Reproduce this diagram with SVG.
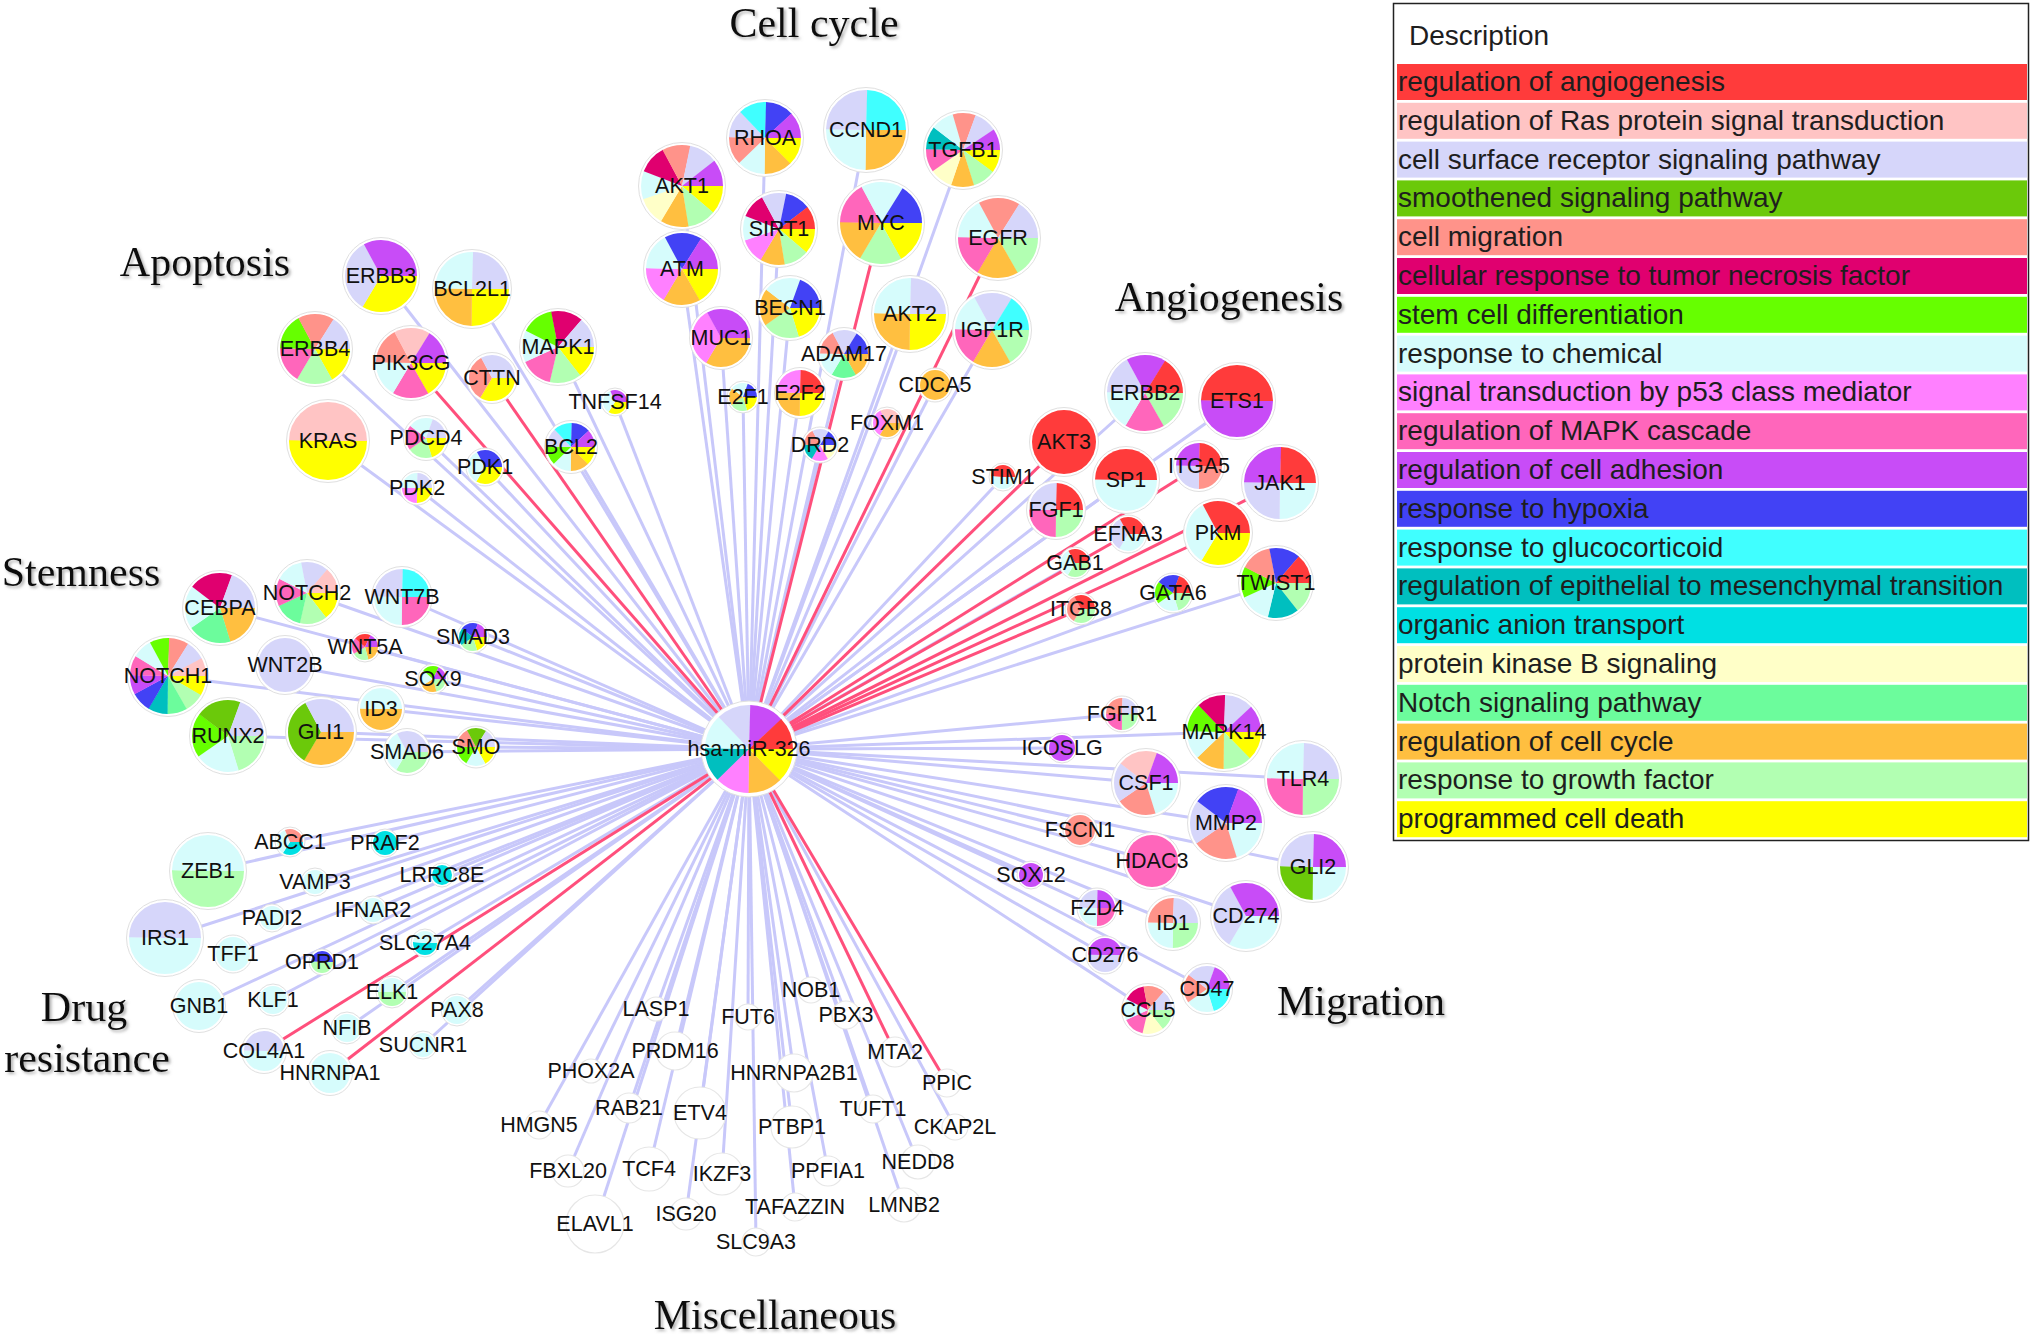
<svg xmlns="http://www.w3.org/2000/svg" width="2032" height="1337" viewBox="0 0 2032 1337">
<defs>
<style>
text{font-family:"Liberation Sans",Arial,sans-serif}
.n text{font-size:21.5px;text-anchor:middle;dominant-baseline:central;fill:#111}
.o{fill:#fff;stroke:#e0e0e0;stroke-width:1}
.w{fill:#fff;stroke:#e6e6e6;stroke-width:1.2}
.p2{stroke-dasharray:180.6 999}.p3{stroke-dasharray:120.6 999}.p4{stroke-dasharray:90.6 999}.p5{stroke-dasharray:72.6 999}.p6{stroke-dasharray:60.6 999}.p7{stroke-dasharray:52 999}.p8{stroke-dasharray:45.6 999}.p9{stroke-dasharray:40.6 999}.p10{stroke-dasharray:36.6 999}.p12{stroke-dasharray:30.6 999}
.A{stroke:#ff3b3b}.B{stroke:#ffc4c4}.C{stroke:#d6d6fa}.D{stroke:#6bc90a}.E{stroke:#ff938a}.F{stroke:#e0006f}.G{stroke:#66ff00}.H{stroke:#d6fcfc}.I{stroke:#ff80ff}.J{stroke:#ff66bb}.K{stroke:#c84cf7}.L{stroke:#4242f5}.M{stroke:#40ffff}.N{stroke:#00bfbf}.O{stroke:#00e0e3}.P{stroke:#ffffc8}.Q{stroke:#6cfc9c}.R{stroke:#ffbf40}.S{stroke:#b2ffb2}.T{stroke:#ffff00}
.fA{fill:#ff3b3b}.fC{fill:#d6d6fa}.fE{fill:#ff938a}.fH{fill:#d6fcfc}.fJ{fill:#ff66bb}.fK{fill:#c84cf7}.fO{fill:#00e0e3}.fR{fill:#ffbf40}
.el line{stroke:#c8c8fa}.er line{stroke:#ff4f7c}
.cat{font-family:"Liberation Serif","Times New Roman",serif;font-size:42px;text-anchor:middle;fill:#111;filter:url(#sh)}
.lg{font-size:28px;fill:#1e1e1e}
</style>
<circle id="s" r="57.2958" fill="none" stroke-width="114.5916"/>
<filter id="sh" x="-10%" y="-30%" width="130%" height="170%"><feDropShadow dx="2" dy="2" stdDeviation="1.5" flood-color="#777" flood-opacity=".6"/></filter>
</defs>
<rect width="2032" height="1337" fill="#fff"/>

<g id="edges" fill="none" stroke-width="3">
<g class="el">
<line x1="749" y1="749" x2="765" y2="138"/>
<line x1="749" y1="749" x2="866" y2="130"/>
<line x1="749" y1="749" x2="963" y2="150"/>
<line x1="749" y1="749" x2="682" y2="186"/>
<line x1="749" y1="749" x2="779" y2="229"/>
<line x1="749" y1="749" x2="682" y2="269"/>
<line x1="749" y1="749" x2="790" y2="308"/>
<line x1="749" y1="749" x2="910" y2="314"/>
<line x1="749" y1="749" x2="992" y2="330"/>
<line x1="749" y1="749" x2="721" y2="338"/>
<line x1="749" y1="749" x2="844" y2="354"/>
<line x1="749" y1="749" x2="743" y2="397"/>
<line x1="749" y1="749" x2="800" y2="393"/>
<line x1="749" y1="749" x2="935" y2="385"/>
<line x1="749" y1="749" x2="887" y2="423"/>
<line x1="749" y1="749" x2="820" y2="445"/>
<line x1="749" y1="749" x2="381" y2="276"/>
<line x1="749" y1="749" x2="472" y2="289"/>
<line x1="749" y1="749" x2="315" y2="349"/>
<line x1="749" y1="749" x2="558" y2="347"/>
<line x1="749" y1="749" x2="615" y2="402"/>
<line x1="749" y1="749" x2="328" y2="441"/>
<line x1="749" y1="749" x2="426" y2="438"/>
<line x1="749" y1="749" x2="485" y2="467"/>
<line x1="749" y1="749" x2="417" y2="488"/>
<line x1="749" y1="749" x2="571" y2="447"/>
<line x1="749" y1="749" x2="1145" y2="393"/>
<line x1="749" y1="749" x2="1237" y2="401"/>
<line x1="749" y1="749" x2="1003" y2="477"/>
<line x1="749" y1="749" x2="1126" y2="480"/>
<line x1="749" y1="749" x2="1056" y2="510"/>
<line x1="749" y1="749" x2="1075" y2="563"/>
<line x1="749" y1="749" x2="1173" y2="593"/>
<line x1="749" y1="749" x2="1276" y2="583"/>
<line x1="749" y1="749" x2="220" y2="608"/>
<line x1="749" y1="749" x2="307" y2="593"/>
<line x1="749" y1="749" x2="402" y2="597"/>
<line x1="749" y1="749" x2="473" y2="637"/>
<line x1="749" y1="749" x2="365" y2="647"/>
<line x1="749" y1="749" x2="168" y2="676"/>
<line x1="749" y1="749" x2="285" y2="665"/>
<line x1="749" y1="749" x2="433" y2="679"/>
<line x1="749" y1="749" x2="381" y2="709"/>
<line x1="749" y1="749" x2="228" y2="736"/>
<line x1="749" y1="749" x2="321" y2="732"/>
<line x1="749" y1="749" x2="407" y2="752"/>
<line x1="749" y1="749" x2="476" y2="747"/>
<line x1="749" y1="749" x2="1122" y2="714"/>
<line x1="749" y1="749" x2="1224" y2="732"/>
<line x1="749" y1="749" x2="1062" y2="748"/>
<line x1="749" y1="749" x2="1146" y2="783"/>
<line x1="749" y1="749" x2="1303" y2="779"/>
<line x1="749" y1="749" x2="1226" y2="823"/>
<line x1="749" y1="749" x2="1080" y2="830"/>
<line x1="749" y1="749" x2="1152" y2="861"/>
<line x1="749" y1="749" x2="1313" y2="867"/>
<line x1="749" y1="749" x2="1031" y2="875"/>
<line x1="749" y1="749" x2="1097" y2="908"/>
<line x1="749" y1="749" x2="1173" y2="923"/>
<line x1="749" y1="749" x2="1246" y2="916"/>
<line x1="749" y1="749" x2="1105" y2="955"/>
<line x1="749" y1="749" x2="1207" y2="989"/>
<line x1="749" y1="749" x2="1148" y2="1010"/>
<line x1="749" y1="749" x2="208" y2="871"/>
<line x1="749" y1="749" x2="290" y2="842"/>
<line x1="749" y1="749" x2="385" y2="843"/>
<line x1="749" y1="749" x2="442" y2="875"/>
<line x1="749" y1="749" x2="315" y2="882"/>
<line x1="749" y1="749" x2="165" y2="938"/>
<line x1="749" y1="749" x2="272" y2="918"/>
<line x1="749" y1="749" x2="373" y2="910"/>
<line x1="749" y1="749" x2="233" y2="954"/>
<line x1="749" y1="749" x2="425" y2="943"/>
<line x1="749" y1="749" x2="322" y2="962"/>
<line x1="749" y1="749" x2="199" y2="1006"/>
<line x1="749" y1="749" x2="273" y2="1000"/>
<line x1="749" y1="749" x2="392" y2="992"/>
<line x1="749" y1="749" x2="457" y2="1010"/>
<line x1="749" y1="749" x2="347" y2="1028"/>
<line x1="749" y1="749" x2="423" y2="1045"/>
<line x1="749" y1="749" x2="656" y2="1009"/>
<line x1="749" y1="749" x2="811" y2="990"/>
<line x1="749" y1="749" x2="748" y2="1017"/>
<line x1="749" y1="749" x2="846" y2="1015"/>
<line x1="749" y1="749" x2="675" y2="1051"/>
<line x1="749" y1="749" x2="591" y2="1071"/>
<line x1="749" y1="749" x2="794" y2="1073"/>
<line x1="749" y1="749" x2="629" y2="1108"/>
<line x1="749" y1="749" x2="700" y2="1113"/>
<line x1="749" y1="749" x2="873" y2="1109"/>
<line x1="749" y1="749" x2="539" y2="1125"/>
<line x1="749" y1="749" x2="792" y2="1127"/>
<line x1="749" y1="749" x2="955" y2="1127"/>
<line x1="749" y1="749" x2="568" y2="1171"/>
<line x1="749" y1="749" x2="649" y2="1169"/>
<line x1="749" y1="749" x2="722" y2="1174"/>
<line x1="749" y1="749" x2="828" y2="1171"/>
<line x1="749" y1="749" x2="918" y2="1162"/>
<line x1="749" y1="749" x2="595" y2="1224"/>
<line x1="749" y1="749" x2="686" y2="1214"/>
<line x1="749" y1="749" x2="795" y2="1207"/>
<line x1="749" y1="749" x2="904" y2="1205"/>
<line x1="749" y1="749" x2="756" y2="1242"/>
</g>
<g class="er">
<line x1="749" y1="749" x2="881" y2="223"/>
<line x1="749" y1="749" x2="998" y2="238"/>
<line x1="749" y1="749" x2="411" y2="363"/>
<line x1="749" y1="749" x2="492" y2="378"/>
<line x1="749" y1="749" x2="1064" y2="442"/>
<line x1="749" y1="749" x2="1199" y2="466"/>
<line x1="749" y1="749" x2="1128" y2="534"/>
<line x1="749" y1="749" x2="1280" y2="483"/>
<line x1="749" y1="749" x2="1218" y2="533"/>
<line x1="749" y1="749" x2="1081" y2="609"/>
<line x1="749" y1="749" x2="264" y2="1051"/>
<line x1="749" y1="749" x2="330" y2="1073"/>
<line x1="749" y1="749" x2="895" y2="1052"/>
<line x1="749" y1="749" x2="947" y2="1083"/>
</g>
</g>

<g id="nodes">
<g id="hub" class="n" transform="translate(749 749)"><circle class="o" r="48"/><g class="p8" transform="scale(.384)"><use href="#s" class="T"/><use href="#s" class="R" stroke-dashoffset="-45"/><use href="#s" class="I" stroke-dashoffset="-90"/><use href="#s" class="N" stroke-dashoffset="-135"/><use href="#s" class="H" stroke-dashoffset="-180"/><use href="#s" class="C" stroke-dashoffset="-225"/><use href="#s" class="K" stroke-dashoffset="-270"/><use href="#s" class="A" stroke-dashoffset="-315"/></g><text>hsa-miR-326</text></g>

<g id="RHOA" class="n" transform="translate(765 138)"><circle class="o" r="38.5"/><g class="p8" transform="scale(.3142)"><use href="#s" class="T"/><use href="#s" class="R" stroke-dashoffset="-45"/><use href="#s" class="H" stroke-dashoffset="-90"/><use href="#s" class="E" stroke-dashoffset="-135"/><use href="#s" class="C" stroke-dashoffset="-180"/><use href="#s" class="M" stroke-dashoffset="-225"/><use href="#s" class="L" stroke-dashoffset="-270"/><use href="#s" class="K" stroke-dashoffset="-315"/></g><text>RHOA</text></g>
<g id="CCND1" class="n" transform="translate(866 130)"><circle class="o" r="42.5"/><g class="p4" transform="scale(.3491)"><use href="#s" class="R"/><use href="#s" class="H" stroke-dashoffset="-90"/><use href="#s" class="C" stroke-dashoffset="-180"/><use href="#s" class="M" stroke-dashoffset="-270"/></g><text>CCND1</text></g>
<g id="TGFB1" class="n" transform="translate(963 150)"><circle class="o" r="39.5"/><g class="p10" transform="scale(.3229)"><use href="#s" class="T"/><use href="#s" class="S" stroke-dashoffset="-36"/><use href="#s" class="R" stroke-dashoffset="-72"/><use href="#s" class="P" stroke-dashoffset="-108"/><use href="#s" class="J" stroke-dashoffset="-144"/><use href="#s" class="N" stroke-dashoffset="-180"/><use href="#s" class="H" stroke-dashoffset="-216"/><use href="#s" class="E" stroke-dashoffset="-252"/><use href="#s" class="C" stroke-dashoffset="-288"/><use href="#s" class="K" stroke-dashoffset="-324"/></g><text>TGFB1</text></g>
<g id="AKT1" class="n" transform="translate(682 186)"><circle class="o" r="43.5"/><g class="p9" transform="scale(.3578)"><use href="#s" class="T"/><use href="#s" class="S" stroke-dashoffset="-40"/><use href="#s" class="R" stroke-dashoffset="-80"/><use href="#s" class="P" stroke-dashoffset="-120"/><use href="#s" class="H" stroke-dashoffset="-160"/><use href="#s" class="F" stroke-dashoffset="-200"/><use href="#s" class="E" stroke-dashoffset="-240"/><use href="#s" class="C" stroke-dashoffset="-280"/><use href="#s" class="K" stroke-dashoffset="-320"/></g><text>AKT1</text></g>
<g id="SIRT1" class="n" transform="translate(779 229)"><circle class="o" r="38.5"/><g class="p9" transform="scale(.3142)"><use href="#s" class="T"/><use href="#s" class="S" stroke-dashoffset="-40"/><use href="#s" class="R" stroke-dashoffset="-80"/><use href="#s" class="I" stroke-dashoffset="-120"/><use href="#s" class="H" stroke-dashoffset="-160"/><use href="#s" class="F" stroke-dashoffset="-200"/><use href="#s" class="C" stroke-dashoffset="-240"/><use href="#s" class="L" stroke-dashoffset="-280"/><use href="#s" class="A" stroke-dashoffset="-320"/></g><text>SIRT1</text></g>
<g id="MYC" class="n" transform="translate(881 223)"><circle class="o" r="43.5"/><g class="p6" transform="scale(.3578)"><use href="#s" class="T"/><use href="#s" class="S" stroke-dashoffset="-60"/><use href="#s" class="R" stroke-dashoffset="-120"/><use href="#s" class="J" stroke-dashoffset="-180"/><use href="#s" class="H" stroke-dashoffset="-240"/><use href="#s" class="L" stroke-dashoffset="-300"/></g><text>MYC</text></g>
<g id="ATM" class="n" transform="translate(682 269)"><circle class="o" r="38.5"/><g class="p6" transform="scale(.3142)"><use href="#s" class="T"/><use href="#s" class="R" stroke-dashoffset="-60"/><use href="#s" class="I" stroke-dashoffset="-120"/><use href="#s" class="H" stroke-dashoffset="-180"/><use href="#s" class="L" stroke-dashoffset="-240"/><use href="#s" class="K" stroke-dashoffset="-300"/></g><text>ATM</text></g>
<g id="EGFR" class="n" transform="translate(998 238)"><circle class="o" r="42.5"/><g class="p6" transform="scale(.3491)"><use href="#s" class="S"/><use href="#s" class="R" stroke-dashoffset="-60"/><use href="#s" class="J" stroke-dashoffset="-120"/><use href="#s" class="H" stroke-dashoffset="-180"/><use href="#s" class="E" stroke-dashoffset="-240"/><use href="#s" class="C" stroke-dashoffset="-300"/></g><text>EGFR</text></g>
<g id="BECN1" class="n" transform="translate(790 308)"><circle class="o" r="32.5"/><g class="p5" transform="scale(.2618)"><use href="#s" class="T"/><use href="#s" class="S" stroke-dashoffset="-72"/><use href="#s" class="R" stroke-dashoffset="-144"/><use href="#s" class="H" stroke-dashoffset="-216"/><use href="#s" class="L" stroke-dashoffset="-288"/></g><text>BECN1</text></g>
<g id="AKT2" class="n" transform="translate(910 314)"><circle class="o" r="38.5"/><g class="p4" transform="scale(.3142)"><use href="#s" class="T"/><use href="#s" class="R" stroke-dashoffset="-90"/><use href="#s" class="H" stroke-dashoffset="-180"/><use href="#s" class="C" stroke-dashoffset="-270"/></g><text>AKT2</text></g>
<g id="IGF1R" class="n" transform="translate(992 330)"><circle class="o" r="39.5"/><g class="p6" transform="scale(.3229)"><use href="#s" class="S"/><use href="#s" class="R" stroke-dashoffset="-60"/><use href="#s" class="J" stroke-dashoffset="-120"/><use href="#s" class="H" stroke-dashoffset="-180"/><use href="#s" class="C" stroke-dashoffset="-240"/><use href="#s" class="M" stroke-dashoffset="-300"/></g><text>IGF1R</text></g>
<g id="MUC1" class="n" transform="translate(721 338)"><circle class="o" r="31.5"/><g class="p3" transform="scale(.2531)"><use href="#s" class="R"/><use href="#s" class="I" stroke-dashoffset="-120"/><use href="#s" class="K" stroke-dashoffset="-240"/></g><text>MUC1</text></g>
<g id="ADAM17" class="n" transform="translate(844 354)"><circle class="o" r="26.5"/><g class="p6" transform="scale(.2094)"><use href="#s" class="R"/><use href="#s" class="Q" stroke-dashoffset="-60"/><use href="#s" class="H" stroke-dashoffset="-120"/><use href="#s" class="E" stroke-dashoffset="-180"/><use href="#s" class="C" stroke-dashoffset="-240"/><use href="#s" class="L" stroke-dashoffset="-300"/></g><text>ADAM17</text></g>
<g id="E2F1" class="n" transform="translate(743 397)"><circle class="o" r="16"/><g class="p5" transform="scale(.1222)"><use href="#s" class="T"/><use href="#s" class="S" stroke-dashoffset="-72"/><use href="#s" class="R" stroke-dashoffset="-144"/><use href="#s" class="H" stroke-dashoffset="-216"/><use href="#s" class="L" stroke-dashoffset="-288"/></g><text>E2F1</text></g>
<g id="E2F2" class="n" transform="translate(800 393)"><circle class="o" r="25.5"/><g class="p4" transform="scale(.2007)"><use href="#s" class="T"/><use href="#s" class="R" stroke-dashoffset="-90"/><use href="#s" class="I" stroke-dashoffset="-180"/><use href="#s" class="A" stroke-dashoffset="-270"/></g><text>E2F2</text></g>
<g id="CDCA5" class="n" transform="translate(935 385)"><circle class="o" r="17"/><circle class="fR" r="15"/><text>CDCA5</text></g>
<g id="FOXM1" class="n" transform="translate(887 423)"><circle class="o" r="16"/><g class="p3" transform="scale(.1222)"><use href="#s" class="R"/><use href="#s" class="I" stroke-dashoffset="-120"/><use href="#s" class="B" stroke-dashoffset="-240"/></g><text>FOXM1</text></g>
<g id="DRD2" class="n" transform="translate(820 445)"><circle class="o" r="18"/><g class="p6" transform="scale(.1396)"><use href="#s" class="P"/><use href="#s" class="I" stroke-dashoffset="-60"/><use href="#s" class="N" stroke-dashoffset="-120"/><use href="#s" class="E" stroke-dashoffset="-180"/><use href="#s" class="C" stroke-dashoffset="-240"/><use href="#s" class="L" stroke-dashoffset="-300"/></g><text>DRD2</text></g>

<g id="ERBB3" class="n" transform="translate(381 276)"><circle class="o" r="38.5"/><g class="p3" transform="scale(.3142)"><use href="#s" class="T"/><use href="#s" class="C" stroke-dashoffset="-120"/><use href="#s" class="K" stroke-dashoffset="-240"/></g><text>ERBB3</text></g>
<g id="BCL2L1" class="n" transform="translate(472 289)"><circle class="o" r="39.5"/><g class="p4" transform="scale(.3229)"><use href="#s" class="T"/><use href="#s" class="R" stroke-dashoffset="-90"/><use href="#s" class="H" stroke-dashoffset="-180"/><use href="#s" class="C" stroke-dashoffset="-270"/></g><text>BCL2L1</text></g>
<g id="ERBB4" class="n" transform="translate(315 349)"><circle class="o" r="37.5"/><g class="p6" transform="scale(.3054)"><use href="#s" class="T"/><use href="#s" class="S" stroke-dashoffset="-60"/><use href="#s" class="J" stroke-dashoffset="-120"/><use href="#s" class="G" stroke-dashoffset="-180"/><use href="#s" class="E" stroke-dashoffset="-240"/><use href="#s" class="C" stroke-dashoffset="-300"/></g><text>ERBB4</text></g>
<g id="PIK3CG" class="n" transform="translate(411 363)"><circle class="o" r="37.5"/><g class="p6" transform="scale(.3054)"><use href="#s" class="T"/><use href="#s" class="J" stroke-dashoffset="-60"/><use href="#s" class="H" stroke-dashoffset="-120"/><use href="#s" class="E" stroke-dashoffset="-180"/><use href="#s" class="B" stroke-dashoffset="-240"/><use href="#s" class="K" stroke-dashoffset="-300"/></g><text>PIK3CG</text></g>
<g id="CTTN" class="n" transform="translate(492 378)"><circle class="o" r="25.5"/><g class="p3" transform="scale(.2007)"><use href="#s" class="T"/><use href="#s" class="E" stroke-dashoffset="-120"/><use href="#s" class="C" stroke-dashoffset="-240"/></g><text>CTTN</text></g>
<g id="MAPK1" class="n" transform="translate(558 347)"><circle class="o" r="38.5"/><g class="p7" transform="scale(.3142)"><use href="#s" class="T"/><use href="#s" class="S" stroke-dashoffset="-51.43"/><use href="#s" class="J" stroke-dashoffset="-102.86"/><use href="#s" class="H" stroke-dashoffset="-154.29"/><use href="#s" class="G" stroke-dashoffset="-205.71"/><use href="#s" class="F" stroke-dashoffset="-257.14"/><use href="#s" class="C" stroke-dashoffset="-308.57"/></g><text>MAPK1</text></g>
<g id="TNFSF14" class="n" transform="translate(615 402)"><circle class="o" r="14"/><g class="p3" transform="scale(.1047)"><use href="#s" class="T"/><use href="#s" class="H" stroke-dashoffset="-120"/><use href="#s" class="K" stroke-dashoffset="-240"/></g><text>TNFSF14</text></g>
<g id="KRAS" class="n" transform="translate(328 441)"><circle class="o" r="41.5"/><g class="p2" transform="scale(.3403)"><use href="#s" class="T"/><use href="#s" class="B" stroke-dashoffset="-180"/></g><text>KRAS</text></g>
<g id="PDCD4" class="n" transform="translate(426 438)"><circle class="o" r="22.5"/><g class="p5" transform="scale(.1745)"><use href="#s" class="T"/><use href="#s" class="S" stroke-dashoffset="-72"/><use href="#s" class="J" stroke-dashoffset="-144"/><use href="#s" class="H" stroke-dashoffset="-216"/><use href="#s" class="C" stroke-dashoffset="-288"/></g><text>PDCD4</text></g>
<g id="PDK1" class="n" transform="translate(485 467)"><circle class="o" r="19"/><g class="p3" transform="scale(.1484)"><use href="#s" class="T"/><use href="#s" class="H" stroke-dashoffset="-120"/><use href="#s" class="L" stroke-dashoffset="-240"/></g><text>PDK1</text></g>
<g id="PDK2" class="n" transform="translate(417 488)"><circle class="o" r="17"/><g class="p4" transform="scale(.1309)"><use href="#s" class="T"/><use href="#s" class="I" stroke-dashoffset="-90"/><use href="#s" class="H" stroke-dashoffset="-180"/><use href="#s" class="C" stroke-dashoffset="-270"/></g><text>PDK2</text></g>
<g id="BCL2" class="n" transform="translate(571 447)"><circle class="o" r="26.5"/><g class="p8" transform="scale(.2094)"><use href="#s" class="T"/><use href="#s" class="R" stroke-dashoffset="-45"/><use href="#s" class="H" stroke-dashoffset="-90"/><use href="#s" class="G" stroke-dashoffset="-135"/><use href="#s" class="C" stroke-dashoffset="-180"/><use href="#s" class="M" stroke-dashoffset="-225"/><use href="#s" class="L" stroke-dashoffset="-270"/><use href="#s" class="K" stroke-dashoffset="-315"/></g><text>BCL2</text></g>

<g id="ERBB2" class="n" transform="translate(1145 393)"><circle class="o" r="40.5"/><g class="p6" transform="scale(.3316)"><use href="#s" class="S"/><use href="#s" class="J" stroke-dashoffset="-60"/><use href="#s" class="H" stroke-dashoffset="-120"/><use href="#s" class="C" stroke-dashoffset="-180"/><use href="#s" class="K" stroke-dashoffset="-240"/><use href="#s" class="A" stroke-dashoffset="-300"/></g><text>ERBB2</text></g>
<g id="ETS1" class="n" transform="translate(1237 401)"><circle class="o" r="38.5"/><g class="p2" transform="scale(.3142)"><use href="#s" class="K"/><use href="#s" class="A" stroke-dashoffset="-180"/></g><text>ETS1</text></g>
<g id="AKT3" class="n" transform="translate(1064 442)"><circle class="o" r="34.5"/><circle class="fA" r="32"/><text>AKT3</text></g>
<g id="STIM1" class="n" transform="translate(1003 477)"><circle class="o" r="14"/><g class="p2" transform="scale(.1047)"><use href="#s" class="H"/><use href="#s" class="A" stroke-dashoffset="-180"/></g><text>STIM1</text></g>
<g id="SP1" class="n" transform="translate(1126 480)"><circle class="o" r="33.5"/><g class="p2" transform="scale(.2705)"><use href="#s" class="H"/><use href="#s" class="A" stroke-dashoffset="-180"/></g><text>SP1</text></g>
<g id="ITGA5" class="n" transform="translate(1199 466)"><circle class="o" r="25.5"/><g class="p4" transform="scale(.2007)"><use href="#s" class="E"/><use href="#s" class="C" stroke-dashoffset="-90"/><use href="#s" class="K" stroke-dashoffset="-180"/><use href="#s" class="A" stroke-dashoffset="-270"/></g><text>ITGA5</text></g>
<g id="JAK1" class="n" transform="translate(1280 483)"><circle class="o" r="38.5"/><g class="p4" transform="scale(.3142)"><use href="#s" class="H"/><use href="#s" class="C" stroke-dashoffset="-90"/><use href="#s" class="K" stroke-dashoffset="-180"/><use href="#s" class="A" stroke-dashoffset="-270"/></g><text>JAK1</text></g>
<g id="FGF1" class="n" transform="translate(1056 510)"><circle class="o" r="29.5"/><g class="p4" transform="scale(.2356)"><use href="#s" class="S"/><use href="#s" class="J" stroke-dashoffset="-90"/><use href="#s" class="C" stroke-dashoffset="-180"/><use href="#s" class="A" stroke-dashoffset="-270"/></g><text>FGF1</text></g>
<g id="EFNA3" class="n" transform="translate(1128 534)"><circle class="o" r="19"/><g class="p3" transform="scale(.1484)"><use href="#s" class="H"/><use href="#s" class="C" stroke-dashoffset="-120"/><use href="#s" class="A" stroke-dashoffset="-240"/></g><text>EFNA3</text></g>
<g id="PKM" class="n" transform="translate(1218 533)"><circle class="o" r="34.5"/><g class="p3" transform="scale(.2793)"><use href="#s" class="T"/><use href="#s" class="H" stroke-dashoffset="-120"/><use href="#s" class="A" stroke-dashoffset="-240"/></g><text>PKM</text></g>
<g id="GAB1" class="n" transform="translate(1075 563)"><circle class="o" r="16"/><g class="p3" transform="scale(.1222)"><use href="#s" class="S"/><use href="#s" class="H" stroke-dashoffset="-120"/><use href="#s" class="A" stroke-dashoffset="-240"/></g><text>GAB1</text></g>
<g id="ITGB8" class="n" transform="translate(1081 609)"><circle class="o" r="16"/><g class="p3" transform="scale(.1222)"><use href="#s" class="S"/><use href="#s" class="E" stroke-dashoffset="-120"/><use href="#s" class="A" stroke-dashoffset="-240"/></g><text>ITGB8</text></g>
<g id="GATA6" class="n" transform="translate(1173 593)"><circle class="o" r="20"/><g class="p5" transform="scale(.1571)"><use href="#s" class="S"/><use href="#s" class="H" stroke-dashoffset="-72"/><use href="#s" class="G" stroke-dashoffset="-144"/><use href="#s" class="L" stroke-dashoffset="-216"/><use href="#s" class="A" stroke-dashoffset="-288"/></g><text>GATA6</text></g>
<g id="TWIST1" class="n" transform="translate(1276 583)"><circle class="o" r="37.5"/><g class="p7" transform="scale(.3054)"><use href="#s" class="S"/><use href="#s" class="N" stroke-dashoffset="-51.43"/><use href="#s" class="H" stroke-dashoffset="-102.86"/><use href="#s" class="G" stroke-dashoffset="-154.29"/><use href="#s" class="E" stroke-dashoffset="-205.71"/><use href="#s" class="L" stroke-dashoffset="-257.14"/><use href="#s" class="A" stroke-dashoffset="-308.57"/></g><text>TWIST1</text></g>

<g id="CEBPA" class="n" transform="translate(220 608)"><circle class="o" r="37.5"/><g class="p5" transform="scale(.3054)"><use href="#s" class="R"/><use href="#s" class="Q" stroke-dashoffset="-72"/><use href="#s" class="H" stroke-dashoffset="-144"/><use href="#s" class="F" stroke-dashoffset="-216"/><use href="#s" class="C" stroke-dashoffset="-288"/></g><text>CEBPA</text></g>
<g id="NOTCH2" class="n" transform="translate(307 593)"><circle class="o" r="33.5"/><g class="p7" transform="scale(.2705)"><use href="#s" class="T"/><use href="#s" class="S" stroke-dashoffset="-51.43"/><use href="#s" class="Q" stroke-dashoffset="-102.86"/><use href="#s" class="J" stroke-dashoffset="-154.29"/><use href="#s" class="H" stroke-dashoffset="-205.71"/><use href="#s" class="C" stroke-dashoffset="-257.14"/><use href="#s" class="B" stroke-dashoffset="-308.57"/></g><text>NOTCH2</text></g>
<g id="WNT7B" class="n" transform="translate(402 597)"><circle class="o" r="30.5"/><g class="p4" transform="scale(.2443)"><use href="#s" class="J"/><use href="#s" class="H" stroke-dashoffset="-90"/><use href="#s" class="C" stroke-dashoffset="-180"/><use href="#s" class="M" stroke-dashoffset="-270"/></g><text>WNT7B</text></g>
<g id="SMAD3" class="n" transform="translate(473 637)"><circle class="o" r="16"/><g class="p5" transform="scale(.1222)"><use href="#s" class="T"/><use href="#s" class="S" stroke-dashoffset="-72"/><use href="#s" class="N" stroke-dashoffset="-144"/><use href="#s" class="L" stroke-dashoffset="-216"/><use href="#s" class="K" stroke-dashoffset="-288"/></g><text>SMAD3</text></g>
<g id="WNT5A" class="n" transform="translate(365 647)"><circle class="o" r="15"/><g class="p5" transform="scale(.1134)"><use href="#s" class="R"/><use href="#s" class="S" stroke-dashoffset="-72"/><use href="#s" class="J" stroke-dashoffset="-144"/><use href="#s" class="A" stroke-dashoffset="-216"/><use href="#s" class="K" stroke-dashoffset="-288"/></g><text>WNT5A</text></g>
<g id="NOTCH1" class="n" transform="translate(168 676)"><circle class="o" r="40.5"/><g class="p12" transform="scale(.3316)"><use href="#s" class="T"/><use href="#s" class="S" stroke-dashoffset="-30"/><use href="#s" class="Q" stroke-dashoffset="-60"/><use href="#s" class="N" stroke-dashoffset="-90"/><use href="#s" class="L" stroke-dashoffset="-120"/><use href="#s" class="K" stroke-dashoffset="-150"/><use href="#s" class="J" stroke-dashoffset="-180"/><use href="#s" class="H" stroke-dashoffset="-210"/><use href="#s" class="G" stroke-dashoffset="-240"/><use href="#s" class="E" stroke-dashoffset="-270"/><use href="#s" class="C" stroke-dashoffset="-300"/><use href="#s" class="B" stroke-dashoffset="-330"/></g><text>NOTCH1</text></g>
<g id="WNT2B" class="n" transform="translate(285 665)"><circle class="o" r="29.5"/><circle class="fC" r="27"/><text>WNT2B</text></g>
<g id="SOX9" class="n" transform="translate(433 679)"><circle class="o" r="15"/><g class="p5" transform="scale(.1134)"><use href="#s" class="S"/><use href="#s" class="R" stroke-dashoffset="-72"/><use href="#s" class="H" stroke-dashoffset="-144"/><use href="#s" class="G" stroke-dashoffset="-216"/><use href="#s" class="K" stroke-dashoffset="-288"/></g><text>SOX9</text></g>
<g id="ID3" class="n" transform="translate(381 709)"><circle class="o" r="23.5"/><g class="p2" transform="scale(.1833)"><use href="#s" class="R"/><use href="#s" class="H" stroke-dashoffset="-180"/></g><text>ID3</text></g>
<g id="RUNX2" class="n" transform="translate(228 736)"><circle class="o" r="38.5"/><g class="p5" transform="scale(.3142)"><use href="#s" class="S"/><use href="#s" class="H" stroke-dashoffset="-72"/><use href="#s" class="G" stroke-dashoffset="-144"/><use href="#s" class="D" stroke-dashoffset="-216"/><use href="#s" class="C" stroke-dashoffset="-288"/></g><text>RUNX2</text></g>
<g id="GLI1" class="n" transform="translate(321 732)"><circle class="o" r="35.5"/><g class="p3" transform="scale(.2880)"><use href="#s" class="R"/><use href="#s" class="D" stroke-dashoffset="-120"/><use href="#s" class="C" stroke-dashoffset="-240"/></g><text>GLI1</text></g>
<g id="SMAD6" class="n" transform="translate(407 752)"><circle class="o" r="23.5"/><g class="p3" transform="scale(.1833)"><use href="#s" class="S"/><use href="#s" class="H" stroke-dashoffset="-120"/><use href="#s" class="C" stroke-dashoffset="-240"/></g><text>SMAD6</text></g>
<g id="SMO" class="n" transform="translate(476 747)"><circle class="o" r="21"/><g class="p6" transform="scale(.1658)"><use href="#s" class="T"/><use href="#s" class="H" stroke-dashoffset="-60"/><use href="#s" class="G" stroke-dashoffset="-120"/><use href="#s" class="E" stroke-dashoffset="-180"/><use href="#s" class="D" stroke-dashoffset="-240"/><use href="#s" class="C" stroke-dashoffset="-300"/></g><text>SMO</text></g>

<g id="FGFR1" class="n" transform="translate(1122 714)"><circle class="o" r="18"/><g class="p4" transform="scale(.1396)"><use href="#s" class="S"/><use href="#s" class="J" stroke-dashoffset="-90"/><use href="#s" class="E" stroke-dashoffset="-180"/><use href="#s" class="C" stroke-dashoffset="-270"/></g><text>FGFR1</text></g>
<g id="MAPK14" class="n" transform="translate(1224 732)"><circle class="o" r="39.5"/><g class="p8" transform="scale(.3229)"><use href="#s" class="T"/><use href="#s" class="S" stroke-dashoffset="-45"/><use href="#s" class="R" stroke-dashoffset="-90"/><use href="#s" class="H" stroke-dashoffset="-135"/><use href="#s" class="G" stroke-dashoffset="-180"/><use href="#s" class="F" stroke-dashoffset="-225"/><use href="#s" class="C" stroke-dashoffset="-270"/><use href="#s" class="K" stroke-dashoffset="-315"/></g><text>MAPK14</text></g>
<g id="ICOSLG" class="n" transform="translate(1062 748)"><circle class="o" r="15"/><circle class="fK" r="13"/><text>ICOSLG</text></g>
<g id="CSF1" class="n" transform="translate(1146 783)"><circle class="o" r="34.5"/><g class="p5" transform="scale(.2793)"><use href="#s" class="H"/><use href="#s" class="E" stroke-dashoffset="-72"/><use href="#s" class="C" stroke-dashoffset="-144"/><use href="#s" class="B" stroke-dashoffset="-216"/><use href="#s" class="K" stroke-dashoffset="-288"/></g><text>CSF1</text></g>
<g id="TLR4" class="n" transform="translate(1303 779)"><circle class="o" r="38.5"/><g class="p4" transform="scale(.3142)"><use href="#s" class="S"/><use href="#s" class="J" stroke-dashoffset="-90"/><use href="#s" class="H" stroke-dashoffset="-180"/><use href="#s" class="C" stroke-dashoffset="-270"/></g><text>TLR4</text></g>
<g id="MMP2" class="n" transform="translate(1226 823)"><circle class="o" r="38.5"/><g class="p5" transform="scale(.3142)"><use href="#s" class="H"/><use href="#s" class="E" stroke-dashoffset="-72"/><use href="#s" class="C" stroke-dashoffset="-144"/><use href="#s" class="L" stroke-dashoffset="-216"/><use href="#s" class="K" stroke-dashoffset="-288"/></g><text>MMP2</text></g>
<g id="FSCN1" class="n" transform="translate(1080 830)"><circle class="o" r="17"/><circle class="fE" r="15"/><text>FSCN1</text></g>
<g id="HDAC3" class="n" transform="translate(1152 861)"><circle class="o" r="28.5"/><circle class="fJ" r="26"/><text>HDAC3</text></g>
<g id="GLI2" class="n" transform="translate(1313 867)"><circle class="o" r="35.5"/><g class="p4" transform="scale(.2880)"><use href="#s" class="H"/><use href="#s" class="D" stroke-dashoffset="-90"/><use href="#s" class="C" stroke-dashoffset="-180"/><use href="#s" class="K" stroke-dashoffset="-270"/></g><text>GLI2</text></g>
<g id="SOX12" class="n" transform="translate(1031 875)"><circle class="o" r="14"/><circle class="fK" r="12"/><text>SOX12</text></g>
<g id="FZD4" class="n" transform="translate(1097 908)"><circle class="o" r="20"/><g class="p4" transform="scale(.1571)"><use href="#s" class="J"/><use href="#s" class="H" stroke-dashoffset="-90"/><use href="#s" class="C" stroke-dashoffset="-180"/><use href="#s" class="K" stroke-dashoffset="-270"/></g><text>FZD4</text></g>
<g id="ID1" class="n" transform="translate(1173 923)"><circle class="o" r="27.5"/><g class="p4" transform="scale(.2182)"><use href="#s" class="S"/><use href="#s" class="H" stroke-dashoffset="-90"/><use href="#s" class="E" stroke-dashoffset="-180"/><use href="#s" class="C" stroke-dashoffset="-270"/></g><text>ID1</text></g>
<g id="CD274" class="n" transform="translate(1246 916)"><circle class="o" r="35.5"/><g class="p3" transform="scale(.2880)"><use href="#s" class="H"/><use href="#s" class="C" stroke-dashoffset="-120"/><use href="#s" class="K" stroke-dashoffset="-240"/></g><text>CD274</text></g>
<g id="CD276" class="n" transform="translate(1105 955)"><circle class="o" r="19"/><g class="p2" transform="scale(.1484)"><use href="#s" class="C"/><use href="#s" class="K" stroke-dashoffset="-180"/></g><text>CD276</text></g>
<g id="CD47" class="n" transform="translate(1207 989)"><circle class="o" r="25.5"/><g class="p5" transform="scale(.2007)"><use href="#s" class="M"/><use href="#s" class="H" stroke-dashoffset="-72"/><use href="#s" class="E" stroke-dashoffset="-144"/><use href="#s" class="C" stroke-dashoffset="-216"/><use href="#s" class="K" stroke-dashoffset="-288"/></g><text>CD47</text></g>
<g id="CCL5" class="n" transform="translate(1148 1010)"><circle class="o" r="26.5"/><g class="p7" transform="scale(.2094)"><use href="#s" class="S"/><use href="#s" class="P" stroke-dashoffset="-51.43"/><use href="#s" class="J" stroke-dashoffset="-102.86"/><use href="#s" class="H" stroke-dashoffset="-154.29"/><use href="#s" class="F" stroke-dashoffset="-205.71"/><use href="#s" class="E" stroke-dashoffset="-257.14"/><use href="#s" class="C" stroke-dashoffset="-308.57"/></g><text>CCL5</text></g>

<g id="ZEB1" class="n" transform="translate(208 871)"><circle class="o" r="38.5"/><g class="p2" transform="scale(.3142)"><use href="#s" class="S"/><use href="#s" class="H" stroke-dashoffset="-180"/></g><text>ZEB1</text></g>
<g id="ABCC1" class="n" transform="translate(290 842)"><circle class="o" r="15"/><g class="p3" transform="scale(.1134)"><use href="#s" class="O"/><use href="#s" class="H" stroke-dashoffset="-120"/><use href="#s" class="E" stroke-dashoffset="-240"/></g><text>ABCC1</text></g>
<g id="PRAF2" class="n" transform="translate(385 843)"><circle class="o" r="14"/><circle class="fO" r="12"/><text>PRAF2</text></g>
<g id="LRRC8E" class="n" transform="translate(442 875)"><circle class="o" r="12"/><circle class="fO" r="10"/><text>LRRC8E</text></g>
<g id="VAMP3" class="n" transform="translate(315 882)"><circle class="o" r="14"/><circle class="fH" r="12"/><text>VAMP3</text></g>
<g id="IRS1" class="n" transform="translate(165 938)"><circle class="o" r="38.5"/><g class="p2" transform="scale(.3142)"><use href="#s" class="H"/><use href="#s" class="C" stroke-dashoffset="-180"/></g><text>IRS1</text></g>
<g id="PADI2" class="n" transform="translate(272 918)"><circle class="o" r="14"/><circle class="fH" r="12"/><text>PADI2</text></g>
<g id="IFNAR2" class="n" transform="translate(373 910)"><circle class="o" r="14"/><circle class="fH" r="12"/><text>IFNAR2</text></g>
<g id="TFF1" class="n" transform="translate(233 954)"><circle class="o" r="19"/><circle class="fH" r="17"/><text>TFF1</text></g>
<g id="SLC27A4" class="n" transform="translate(425 943)"><circle class="o" r="14"/><g class="p2" transform="scale(.1047)"><use href="#s" class="O"/><use href="#s" class="H" stroke-dashoffset="-180"/></g><text>SLC27A4</text></g>
<g id="OPRD1" class="n" transform="translate(322 962)"><circle class="o" r="13"/><g class="p2" transform="scale(.0960)"><use href="#s" class="S"/><use href="#s" class="L" stroke-dashoffset="-180"/></g><text>OPRD1</text></g>
<g id="GNB1" class="n" transform="translate(199 1006)"><circle class="o" r="26.5"/><circle class="fH" r="24"/><text>GNB1</text></g>
<g id="KLF1" class="n" transform="translate(273 1000)"><circle class="o" r="16"/><circle class="fH" r="14"/><text>KLF1</text></g>
<g id="ELK1" class="n" transform="translate(392 992)"><circle class="o" r="16"/><g class="p2" transform="scale(.1222)"><use href="#s" class="S"/><use href="#s" class="H" stroke-dashoffset="-180"/></g><text>ELK1</text></g>
<g id="PAX8" class="n" transform="translate(457 1010)"><circle class="o" r="16"/><circle class="fH" r="14"/><text>PAX8</text></g>
<g id="NFIB" class="n" transform="translate(347 1028)"><circle class="o" r="16"/><circle class="fH" r="14"/><text>NFIB</text></g>
<g id="COL4A1" class="n" transform="translate(264 1051)"><circle class="o" r="22.5"/><g class="p2" transform="scale(.1745)"><use href="#s" class="H"/><use href="#s" class="C" stroke-dashoffset="-180"/></g><text>COL4A1</text></g>
<g id="SUCNR1" class="n" transform="translate(423 1045)"><circle class="o" r="14"/><circle class="fH" r="12"/><text>SUCNR1</text></g>
<g id="HNRNPA1" class="n" transform="translate(330 1073)"><circle class="o" r="22.5"/><circle class="fH" r="20"/><text>HNRNPA1</text></g>

<g id="LASP1" class="n" transform="translate(656 1009)"><circle class="w" r="12"/><text>LASP1</text></g>
<g id="NOB1" class="n" transform="translate(811 990)"><circle class="w" r="13"/><text>NOB1</text></g>
<g id="FUT6" class="n" transform="translate(748 1017)"><circle class="w" r="13"/><text>FUT6</text></g>
<g id="PBX3" class="n" transform="translate(846 1015)"><circle class="w" r="14"/><text>PBX3</text></g>
<g id="PRDM16" class="n" transform="translate(675 1051)"><circle class="w" r="19"/><text>PRDM16</text></g>
<g id="MTA2" class="n" transform="translate(895 1052)"><circle class="w" r="15"/><text>MTA2</text></g>
<g id="PHOX2A" class="n" transform="translate(591 1071)"><circle class="w" r="12"/><text>PHOX2A</text></g>
<g id="HNRNPA2B1" class="n" transform="translate(794 1073)"><circle class="w" r="19"/><text>HNRNPA2B1</text></g>
<g id="PPIC" class="n" transform="translate(947 1083)"><circle class="w" r="14"/><text>PPIC</text></g>
<g id="RAB21" class="n" transform="translate(629 1108)"><circle class="w" r="15"/><text>RAB21</text></g>
<g id="ETV4" class="n" transform="translate(700 1113)"><circle class="w" r="26"/><text>ETV4</text></g>
<g id="TUFT1" class="n" transform="translate(873 1109)"><circle class="w" r="14"/><text>TUFT1</text></g>
<g id="HMGN5" class="n" transform="translate(539 1125)"><circle class="w" r="14"/><text>HMGN5</text></g>
<g id="PTBP1" class="n" transform="translate(792 1127)"><circle class="w" r="21"/><text>PTBP1</text></g>
<g id="CKAP2L" class="n" transform="translate(955 1127)"><circle class="w" r="13"/><text>CKAP2L</text></g>
<g id="FBXL20" class="n" transform="translate(568 1171)"><circle class="w" r="16"/><text>FBXL20</text></g>
<g id="TCF4" class="n" transform="translate(649 1169)"><circle class="w" r="22"/><text>TCF4</text></g>
<g id="IKZF3" class="n" transform="translate(722 1174)"><circle class="w" r="21"/><text>IKZF3</text></g>
<g id="PPFIA1" class="n" transform="translate(828 1171)"><circle class="w" r="15"/><text>PPFIA1</text></g>
<g id="NEDD8" class="n" transform="translate(918 1162)"><circle class="w" r="17"/><text>NEDD8</text></g>
<g id="ELAVL1" class="n" transform="translate(595 1224)"><circle class="w" r="29"/><text>ELAVL1</text></g>
<g id="ISG20" class="n" transform="translate(686 1214)"><circle class="w" r="16"/><text>ISG20</text></g>
<g id="TAFAZZIN" class="n" transform="translate(795 1207)"><circle class="w" r="14"/><text>TAFAZZIN</text></g>
<g id="LMNB2" class="n" transform="translate(904 1205)"><circle class="w" r="17"/><text>LMNB2</text></g>
<g id="SLC9A3" class="n" transform="translate(756 1242)"><circle class="w" r="14"/><text>SLC9A3</text></g>
</g>

<g id="categories">
<text class="cat" x="814" y="37">Cell cycle</text>
<text class="cat" x="205" y="276">Apoptosis</text>
<text class="cat" x="1229" y="311">Angiogenesis</text>
<text class="cat" x="81" y="586">Stemness</text>
<text class="cat" x="1361" y="1015">Migration</text>
<text class="cat" x="84" y="1021">Drug</text>
<text class="cat" x="87" y="1072">resistance</text>
<text class="cat" x="775" y="1329">Miscellaneous</text>
</g>

<g id="legend">
<rect x="1393.5" y="3.5" width="635" height="837" fill="#fff" stroke="#222" stroke-width="1.5"/>
<text class="lg" x="1409" y="45">Description</text>
<rect x="1397" y="64" width="630" height="36" fill="#ff3b3b"/><text class="lg" x="1398" y="91">regulation of angiogenesis</text>
<rect x="1397" y="102.8" width="630" height="36" fill="#ffc4c4"/><text class="lg" x="1398" y="129.8">regulation of Ras protein signal transduction</text>
<rect x="1397" y="141.6" width="630" height="36" fill="#d6d6fa"/><text class="lg" x="1398" y="168.6">cell surface receptor signaling pathway</text>
<rect x="1397" y="180.4" width="630" height="36" fill="#6bc90a"/><text class="lg" x="1398" y="207.4">smoothened signaling pathway</text>
<rect x="1397" y="219.2" width="630" height="36" fill="#ff938a"/><text class="lg" x="1398" y="246.2">cell migration</text>
<rect x="1397" y="258" width="630" height="36" fill="#e0006f"/><text class="lg" x="1398" y="285">cellular response to tumor necrosis factor</text>
<rect x="1397" y="296.8" width="630" height="36" fill="#66ff00"/><text class="lg" x="1398" y="323.8">stem cell differentiation</text>
<rect x="1397" y="335.6" width="630" height="36" fill="#d6fcfc"/><text class="lg" x="1398" y="362.6">response to chemical</text>
<rect x="1397" y="374.4" width="630" height="36" fill="#ff80ff"/><text class="lg" x="1398" y="401.4">signal transduction by p53 class mediator</text>
<rect x="1397" y="413.2" width="630" height="36" fill="#ff66bb"/><text class="lg" x="1398" y="440.2">regulation of MAPK cascade</text>
<rect x="1397" y="452" width="630" height="36" fill="#c84cf7"/><text class="lg" x="1398" y="479">regulation of cell adhesion</text>
<rect x="1397" y="490.8" width="630" height="36" fill="#4242f5"/><text class="lg" x="1398" y="517.8">response to hypoxia</text>
<rect x="1397" y="529.6" width="630" height="36" fill="#40ffff"/><text class="lg" x="1398" y="556.6">response to glucocorticoid</text>
<rect x="1397" y="568.4" width="630" height="36" fill="#00bfbf"/><text class="lg" x="1398" y="595.4">regulation of epithelial to mesenchymal transition</text>
<rect x="1397" y="607.2" width="630" height="36" fill="#00e0e3"/><text class="lg" x="1398" y="634.2">organic anion transport</text>
<rect x="1397" y="646" width="630" height="36" fill="#ffffc8"/><text class="lg" x="1398" y="673">protein kinase B signaling</text>
<rect x="1397" y="684.8" width="630" height="36" fill="#6cfc9c"/><text class="lg" x="1398" y="711.8">Notch signaling pathway</text>
<rect x="1397" y="723.6" width="630" height="36" fill="#ffbf40"/><text class="lg" x="1398" y="750.6">regulation of cell cycle</text>
<rect x="1397" y="762.4" width="630" height="36" fill="#b2ffb2"/><text class="lg" x="1398" y="789.4">response to growth factor</text>
<rect x="1397" y="801.2" width="630" height="36" fill="#ffff00"/><text class="lg" x="1398" y="828.2">programmed cell death</text>
</g>
</svg>
